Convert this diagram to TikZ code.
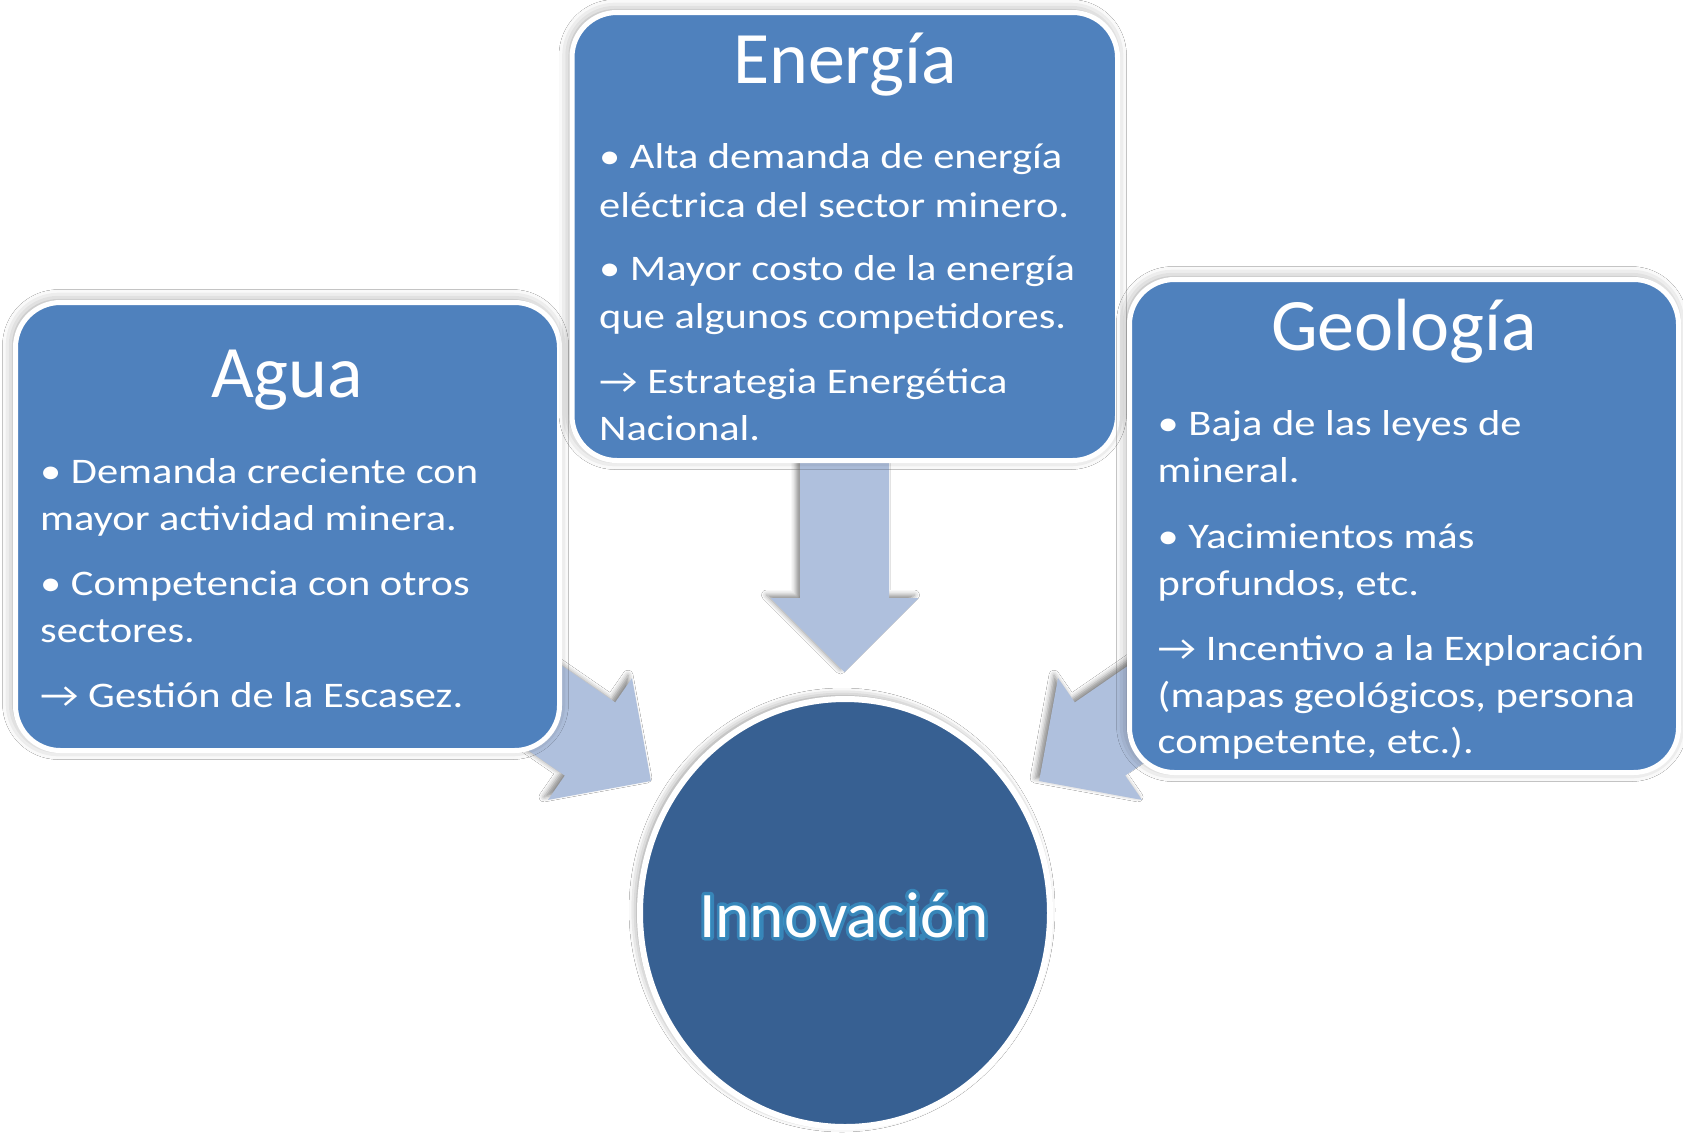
\documentclass[tikz,border=0pt]{standalone}
\usepackage{fontspec}
\setmainfont{Carlito}
\newfontfamily\bodyfont[FakeStretch=1.18]{Carlito}
\usetikzlibrary{shadows.blur,calc}
\definecolor{boxblue}{HTML}{4F81BD}
\definecolor{arrowblue}{HTML}{AFC0DD}
\definecolor{circblue}{HTML}{376092}
\definecolor{glowblue}{HTML}{38A6DA}
\newcommand{\glowon}[1]{\special{pdf:literal direct 2 Tr #1 w 1 j 1 J}}
\newcommand{\glowoff}{\special{pdf:literal direct 0 Tr 1 w}}
\tikzset{
  boxshape/.style={draw=white, line width=5pt, fill=boxblue, rounded corners=45pt,
    blur shadow={shadow xshift=-2pt, shadow yshift=2pt, shadow blur radius=11pt, shadow opacity=38}},
  arrowshape/.style={fill=arrowblue,
    blur shadow={shadow xshift=-4pt, shadow yshift=3pt, shadow blur radius=5pt, shadow opacity=45}},
  titletext/.style={text=white, font=\fontsize{74}{80}\selectfont, anchor=base, inner sep=0pt},
  bodytext/.style={text=white, font=\bodyfont\fontsize{36}{47}\selectfont, anchor=base west, inner sep=0pt},
  innotext/.style={font=\fontsize{65}{72}\selectfont, anchor=base, inner sep=0pt},
}
\begin{document}
\begin{tikzpicture}[x=1pt,y=-1pt]
\useasboundingbox[fill=white] (0,0) rectangle (1683,1133);

% block arrows
\path[arrowshape] (889,450) -- (889,598) -- (918.5,598) -- (844.5,672) -- (770.5,598) -- (800,598) -- (800,450) -- cycle;
\path[arrowshape] (500,623) -- (615.2,702.4) -- (632,678.1) -- (650.9,781) -- (548,799.9) -- (564.8,775.6) -- (449.6,696.2) -- cycle;
\path[arrowshape] (1190,623) -- (1074.8,702.4) -- (1058,678.1) -- (1039.1,781) -- (1142,799.9) -- (1125.2,775.6) -- (1240.4,696.2) -- cycle;

% boxes
\path[boxshape] (15.5,302.5) rectangle (559.5,750.5);
\path[boxshape] (572,12.5) rectangle (1117.5,460.5);
\path[boxshape] (1129.5,279.5) rectangle (1678.5,772.5);

% circle
\path[draw=white, line width=6pt, fill=circblue,
  blur shadow={shadow xshift=-3pt, shadow yshift=3pt, shadow blur radius=8pt, shadow opacity=45}]
  (845,913) ellipse [x radius=205, y radius=214];

% Agua
\node[titletext] (aguaT) at (287,397) {Agua};
\node[bodytext] (a1) at (40,483) {• Demanda creciente con};
\node[bodytext] (a2) at (40,530) {mayor actividad minera.};
\node[bodytext] (a3) at (40,595) {• Competencia con otros};
\node[bodytext] (a4) at (40,642) {sectores.};
\node[bodytext] (a5) at (40,707) {→ Gestión de la Escasez.};

% Energia
\node[titletext] (enerT) at (845,83) {Energía};
\node[bodytext] (e1) at (599,168) {• Alta demanda de energía};
\node[bodytext] (e2) at (599,217) {eléctrica del sector minero.};
\node[bodytext] (e3) at (599,280) {• Mayor costo de la energía};
\node[bodytext] (e4) at (599,328) {que algunos competidores.};
\node[bodytext] (e5) at (599,393) {→ Estrategia Energética};
\node[bodytext] (e6) at (599,440) {Nacional.};

% Geologia
\node[titletext] (geoT) at (1404,350) {Geología};
\node[bodytext] (g1) at (1157.5,435) {• Baja de las leyes de};
\node[bodytext] (g2) at (1157.5,482) {mineral.};
\node[bodytext] (g3) at (1157.5,548) {• Yacimientos más};
\node[bodytext] (g4) at (1157.5,595) {profundos, etc.};
\node[bodytext] (g5) at (1157.5,660) {→ Incentivo a la Exploración};
\node[bodytext] (g6) at (1157.5,707) {(mapas geológicos, persona};
\node[bodytext] (g7) at (1157.5,753) {competente, etc.).};

% Innovacion with glow
\node[innotext, text=glowblue, opacity=0.55] (innoglow) at (844,937) {\glowon{7}Innovación\glowoff};
\node[innotext, text=white] (inno) at (844,937) {Innovación};
\end{tikzpicture}
\end{document}
